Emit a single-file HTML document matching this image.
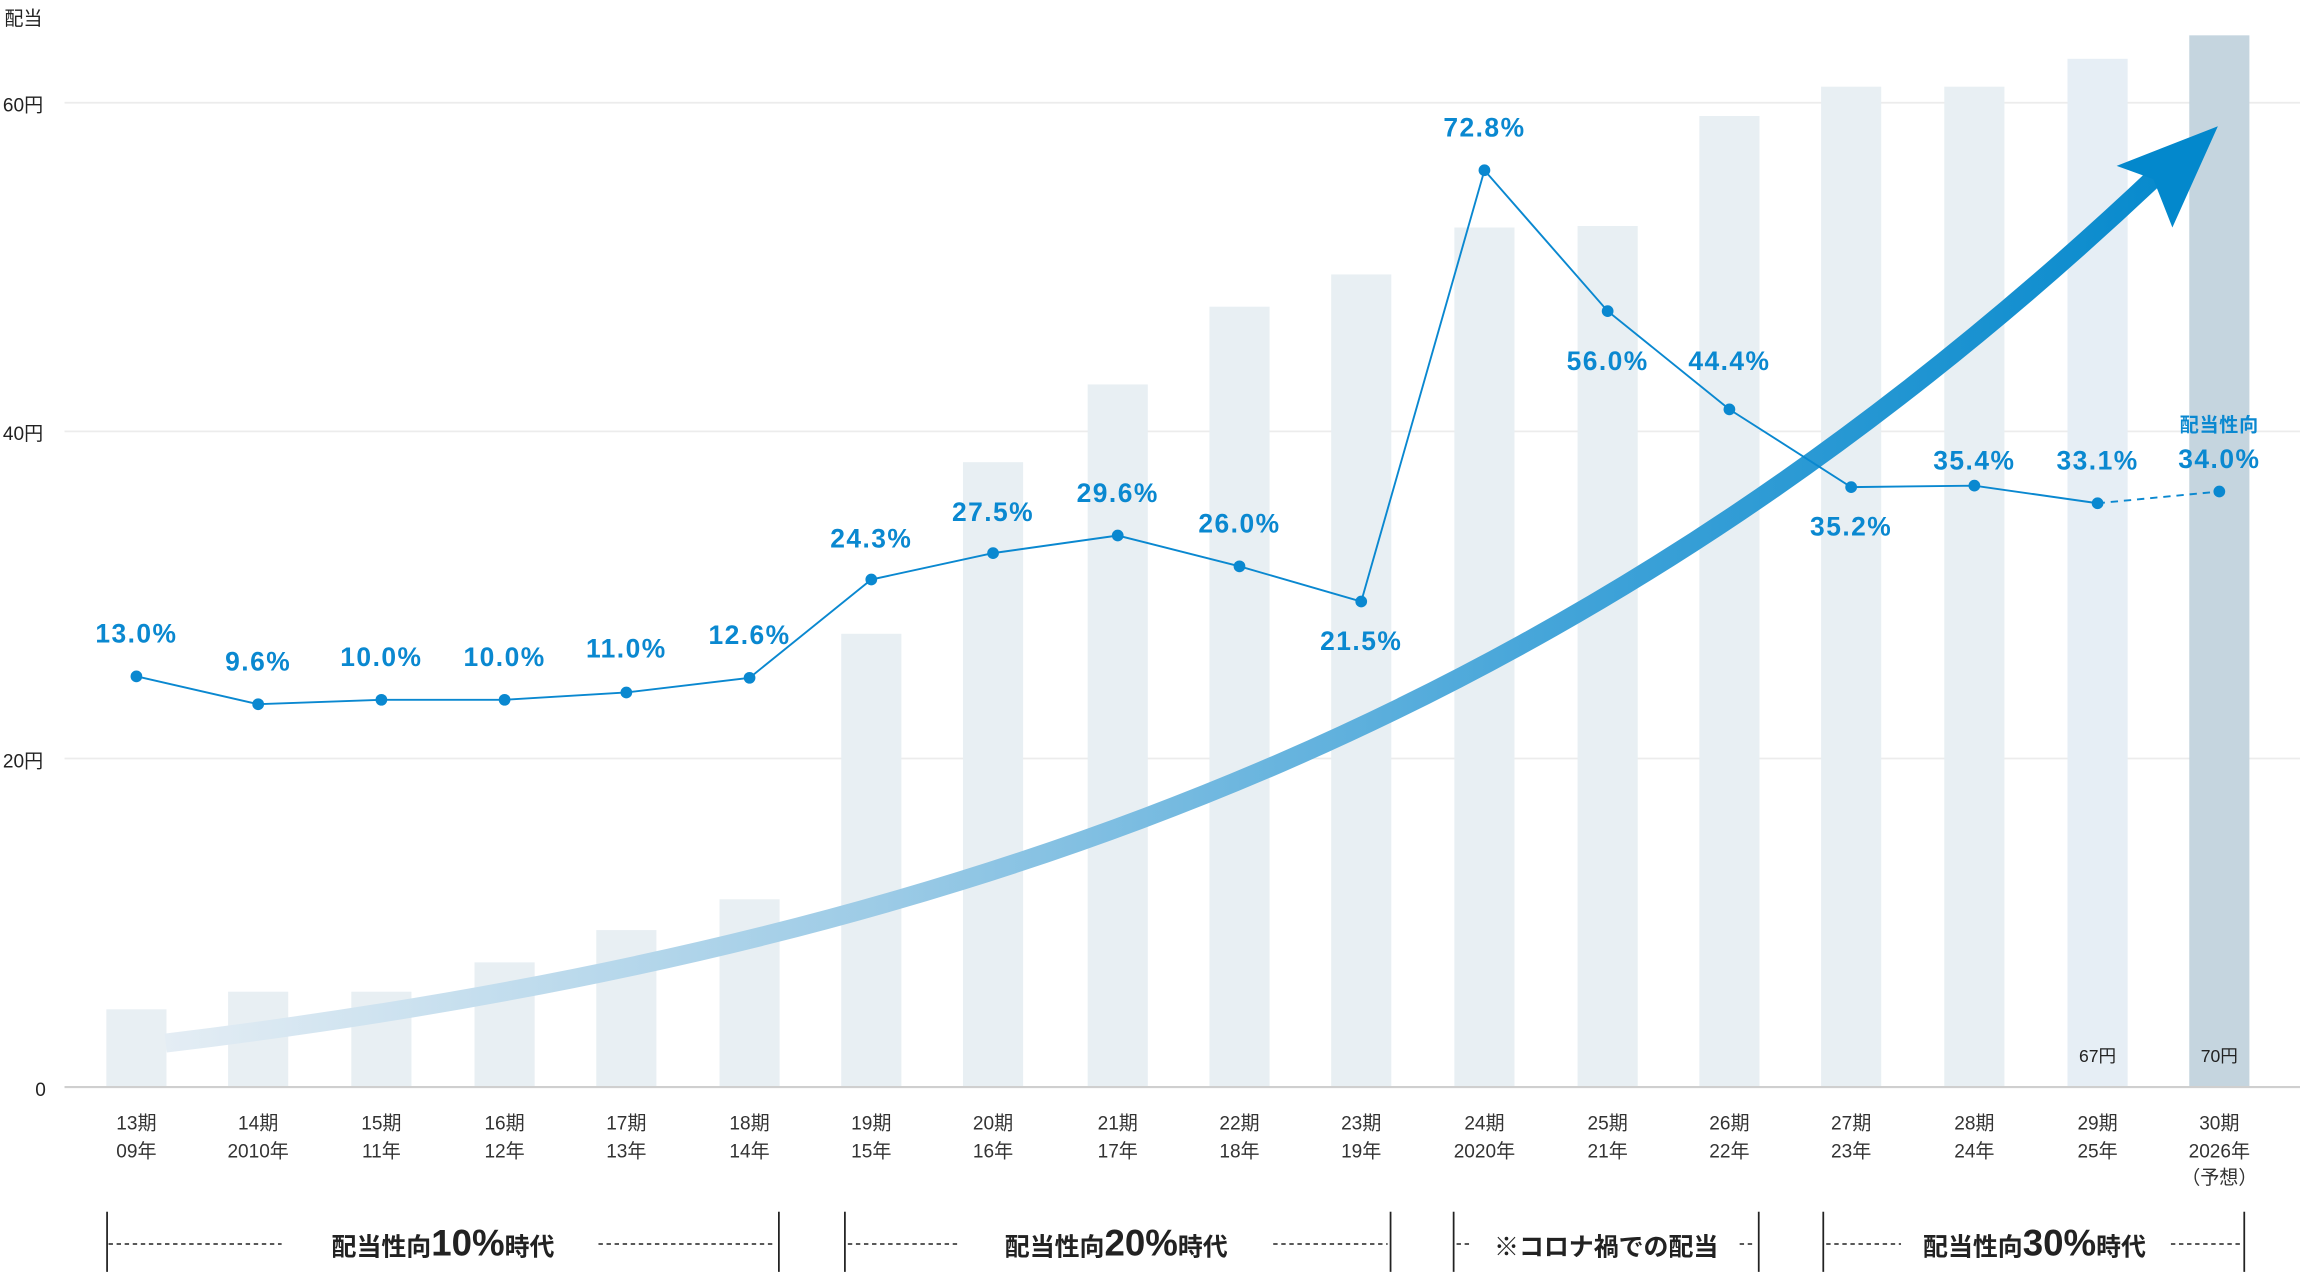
<!DOCTYPE html>
<html><head><meta charset="utf-8"><style>
html,body{margin:0;padding:0;background:#fff;}
svg{display:block;}
text{font-family:"Liberation Sans","Noto Sans CJK JP",sans-serif;}
</style></head><body>
<svg width="2300" height="1272" viewBox="0 0 1568 867" xmlns="http://www.w3.org/2000/svg">
<defs>
<linearGradient id="ag" x1="113" y1="0" x2="1510" y2="0" gradientUnits="userSpaceOnUse">
<stop offset="0" stop-color="#e4edf4"/>
<stop offset="0.35" stop-color="#9ccbe6"/>
<stop offset="0.7" stop-color="#3ea2d8"/>
<stop offset="1" stop-color="#0388cc"/>
</linearGradient>
</defs>
<g fill="#222" font-size="13">
<text x="3" y="17">配当</text>
<text x="2" y="76">60円</text>
<text x="2" y="300">40円</text>
<text x="2" y="523">20円</text>
<text x="24" y="747">0</text>
</g>
<g stroke="#ececec" stroke-width="1.2">
<line x1="44" y1="70" x2="1568" y2="70"/>
<line x1="44" y1="294" x2="1568" y2="294"/>
<line x1="44" y1="517" x2="1568" y2="517"/>
</g>
<g fill="#e8eff3">
<rect x="72.5" y="688" width="41" height="53"/>
<rect x="155.5" y="676" width="41" height="65"/>
<rect x="239.5" y="676" width="41" height="65"/>
<rect x="323.5" y="656" width="41" height="85"/>
<rect x="406.5" y="634" width="41" height="107"/>
<rect x="490.5" y="613" width="41" height="128"/>
<rect x="573.5" y="432" width="41" height="309"/>
<rect x="656.5" y="315" width="41" height="426"/>
<rect x="741.5" y="262" width="41" height="479"/>
<rect x="824.5" y="209" width="41" height="532"/>
<rect x="907.5" y="187" width="41" height="554"/>
<rect x="991.5" y="155" width="41" height="586"/>
<rect x="1075.5" y="154" width="41" height="587"/>
<rect x="1158.5" y="79" width="41" height="662"/>
<rect x="1241.5" y="59" width="41" height="682"/>
<rect x="1325.5" y="59" width="41" height="682"/>
</g>
<rect x="1409.5" y="40" width="41" height="701" fill="#e6eef5"/>
<rect x="1492.5" y="24" width="41" height="717" fill="#c5d5df"/>
<line x1="44" y1="741" x2="1568" y2="741" stroke="#cfcfcf" stroke-width="1.5"/>
<g fill="#222" font-size="12" text-anchor="middle">
<text x="1430" y="724">67円</text><text x="1513" y="724">70円</text>
</g>
<path d="M113,711 C700,640 1100,470 1472,118" fill="none" stroke="url(#ag)" stroke-width="13"/>
<polygon points="1512,86 1443,113 1468,122 1481,155" fill="#0388cc"/>
<g fill="none" stroke="#0a88d0" stroke-width="1.3">
<polyline points="93,461 176,480 260,477 344,477 427,472 511,462 594,395 677,377 762,365 845,386 928,410 1012,116 1096,212 1179,279 1262,332 1346,331 1430,343"/>
<line x1="1430" y1="343" x2="1513" y2="335" stroke-dasharray="5,4"/>
</g>
<g fill="#0a88d0">
<circle cx="93" cy="461" r="4"/><circle cx="176" cy="480" r="4"/><circle cx="260" cy="477" r="4"/><circle cx="344" cy="477" r="4"/><circle cx="427" cy="472" r="4"/><circle cx="511" cy="462" r="4"/><circle cx="594" cy="395" r="4"/><circle cx="677" cy="377" r="4"/><circle cx="762" cy="365" r="4"/><circle cx="845" cy="386" r="4"/><circle cx="928" cy="410" r="4"/><circle cx="1012" cy="116" r="4"/><circle cx="1096" cy="212" r="4"/><circle cx="1179" cy="279" r="4"/><circle cx="1262" cy="332" r="4"/><circle cx="1346" cy="331" r="4"/><circle cx="1430" cy="343" r="4"/><circle cx="1513" cy="335" r="4"/>
</g>
<g fill="#0a88d0" font-size="18" font-weight="bold" text-anchor="middle" letter-spacing="1">
<text x="93" y="438">13.0%</text><text x="176" y="457">9.6%</text><text x="260" y="454">10.0%</text><text x="344" y="454">10.0%</text><text x="427" y="448">11.0%</text><text x="511" y="439">12.6%</text><text x="594" y="373">24.3%</text><text x="677" y="355">27.5%</text><text x="762" y="342">29.6%</text><text x="845" y="363">26.0%</text><text x="928" y="443">21.5%</text><text x="1012" y="93">72.8%</text><text x="1096" y="252">56.0%</text><text x="1179" y="252">44.4%</text><text x="1262" y="365">35.2%</text><text x="1346" y="320">35.4%</text><text x="1430" y="320">33.1%</text><text x="1513" y="319">34.0%</text>
<text x="1513" y="294" font-size="13" letter-spacing="0.5">配当性向</text>
</g>
<g fill="#333" font-size="13" text-anchor="middle">
<text x="93" y="770">13期</text><text x="93" y="789">09年</text>
<text x="176" y="770">14期</text><text x="176" y="789">2010年</text>
<text x="260" y="770">15期</text><text x="260" y="789">11年</text>
<text x="344" y="770">16期</text><text x="344" y="789">12年</text>
<text x="427" y="770">17期</text><text x="427" y="789">13年</text>
<text x="511" y="770">18期</text><text x="511" y="789">14年</text>
<text x="594" y="770">19期</text><text x="594" y="789">15年</text>
<text x="677" y="770">20期</text><text x="677" y="789">16年</text>
<text x="762" y="770">21期</text><text x="762" y="789">17年</text>
<text x="845" y="770">22期</text><text x="845" y="789">18年</text>
<text x="928" y="770">23期</text><text x="928" y="789">19年</text>
<text x="1012" y="770">24期</text><text x="1012" y="789">2020年</text>
<text x="1096" y="770">25期</text><text x="1096" y="789">21年</text>
<text x="1179" y="770">26期</text><text x="1179" y="789">22年</text>
<text x="1262" y="770">27期</text><text x="1262" y="789">23年</text>
<text x="1346" y="770">28期</text><text x="1346" y="789">24年</text>
<text x="1430" y="770">29期</text><text x="1430" y="789">25年</text>
<text x="1513" y="770">30期</text><text x="1513" y="789">2026年</text><text x="1513" y="807">（予想）</text>
</g>
<g stroke="#222" stroke-width="1.2">
<line x1="73" y1="826" x2="73" y2="867"/><line x1="531" y1="826" x2="531" y2="867"/>
<line x1="576" y1="826" x2="576" y2="867"/><line x1="948" y1="826" x2="948" y2="867"/>
<line x1="991" y1="826" x2="991" y2="867"/><line x1="1199" y1="826" x2="1199" y2="867"/>
<line x1="1243" y1="826" x2="1243" y2="867"/><line x1="1530" y1="826" x2="1530" y2="867"/>
</g>
<g stroke="#222" stroke-width="1" stroke-dasharray="3,2.5">
<line x1="74" y1="848" x2="192" y2="848"/><line x1="408" y1="848" x2="529" y2="848"/>
<line x1="578" y1="848" x2="655" y2="848"/><line x1="868" y1="848" x2="946" y2="848"/>
<line x1="993" y1="848" x2="1004" y2="848"/><line x1="1186" y1="848" x2="1197" y2="848"/>
<line x1="1245" y1="848" x2="1296" y2="848"/><line x1="1480" y1="848" x2="1528" y2="848"/>
</g>
<g fill="#222" font-size="17" font-weight="bold" text-anchor="middle">
<text x="302" y="856">配当性向<tspan font-size="25">10%</tspan>時代</text>
<text x="761" y="856">配当性向<tspan font-size="25">20%</tspan>時代</text>
<text x="1095" y="856">※コロナ禍での配当</text>
<text x="1387" y="856">配当性向<tspan font-size="25">30%</tspan>時代</text>
</g>
</svg>
</body></html>
